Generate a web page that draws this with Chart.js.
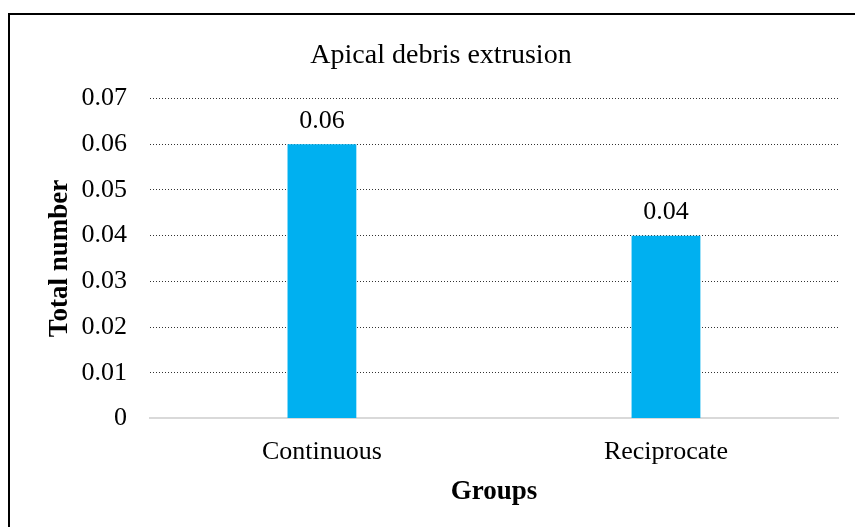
<!DOCTYPE html>
<html>
<head>
<meta charset="utf-8">
<script src="https://cdn.jsdelivr.net/npm/chart.js@4/dist/chart.umd.min.js"></script>
<style>
  body { margin: 0; background: #fff; }
  #wrap { position: relative; width: 855px; height: 527px; }
</style>
</head>
<body>
<div id="wrap"><canvas id="grafico"></canvas></div>
<script>
// Apical debris extrusion - bar chart
const groups = ["Continuous", "Reciprocate"];
const totals = [0.06, 0.04];
const yTicks = [0, 0.01, 0.02, 0.03, 0.04, 0.05, 0.06, 0.07];

const fonte = "'Liberation Serif', 'Times New Roman', serif";

// outer frame (only top/left are visible in the picture)
const moldura = {
  id: 'moldura',
  beforeDraw(chart) {
    const c = chart.ctx;
    c.save();
    c.strokeStyle = '#000';
    c.lineWidth = 2;
    c.beginPath();
    c.moveTo(9, 530);
    c.lineTo(9, 14);
    c.lineTo(860, 14);
    c.stroke();
    c.restore();
  }
};

// value labels over the bars
const rotulos = {
  id: 'rotulos',
  afterDatasetsDraw(chart) {
    const c = chart.ctx;
    const meta = chart.getDatasetMeta(0);
    c.save();
    c.font = "26px " + fonte;
    c.fillStyle = '#000';
    c.textAlign = 'center';
    c.textBaseline = 'bottom';
    meta.data.forEach((bar, i) => {
      c.fillText(String(totals[i]), bar.x, bar.y - 10);
    });
    c.restore();
  }
};

new Chart(document.getElementById('grafico'), {
  type: 'bar',
  data: {
    labels: groups,
    datasets: [{
      label: '',
      data: totals,
      backgroundColor: '#00b0f0',
      barPercentage: 1,
      categoryPercentage: 0.2
    }]
  },
  options: {
    responsive: true,
    maintainAspectRatio: false,
    animation: false,
    layout: { padding: { left: 44, right: 17, top: 39, bottom: 19 } },
    plugins: {
      legend: { display: false },
      tooltip: { enabled: false },
      title: {
        display: true,
        text: 'Apical debris extrusion',
        color: '#000',
        font: { family: fonte, size: 28, weight: 'normal' },
        padding: { top: 0, bottom: 26 }
      }
    },
    scales: {
      x: {
        grid: { display: false, drawTicks: false },
        border: { display: true, color: '#d9d9d9', width: 2 },
        ticks: { color: '#000', font: { family: fonte, size: 26 }, padding: 18 },
        title: {
          display: true,
          text: 'Groups',
          color: '#000',
          font: { family: fonte, size: 27, weight: 'bold' },
          padding: { top: -10, bottom: 0 }
        }
      },
      y: {
        min: 0,
        max: 0.07,
        afterBuildTicks(axis) {
          axis.ticks = yTicks.map(v => ({ value: v }));
        },
        grid: {
          drawTicks: false,
          color: ctx => (ctx.tick && ctx.tick.value === 0) ? 'rgba(0,0,0,0)' : '#333',
          lineWidth: 1
        },
        border: { display: false, dash: [1, 2] },
        ticks: {
          color: '#000',
          font: { family: fonte, size: 26 },
          padding: 23,
          callback: v => String(Math.round(v * 100) / 100)
        },
        title: {
          display: true,
          text: 'Total number',
          color: '#000',
          font: { family: fonte, size: 27, weight: 'bold' },
          padding: { top: 0, bottom: -18 }
        }
      }
    }
  },
  plugins: [moldura, rotulos]
});
</script>
</body>
</html>
